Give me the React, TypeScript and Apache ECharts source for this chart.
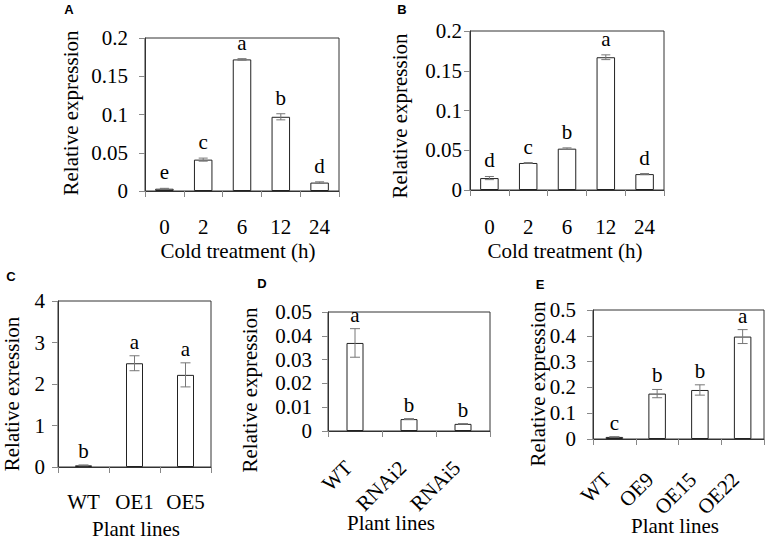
import React, { useEffect, useRef } from "react";
import * as echarts from "echarts";

// ---------- data ----------
const catsA = ["0", "2", "6", "12", "24"];
const valsA = [0.003, 0.041, 0.172, 0.097, 0.011];
const errA = [0.0005, 0.002, 0.001, 0.004, 0.001];
const letA = ["e", "c", "a", "b", "d"];

const catsB = ["0", "2", "6", "12", "24"];
const valsB = [0.015, 0.034, 0.052, 0.167, 0.02];
const errB = [0.002, 0.0005, 0.001, 0.003, 0.0007];
const letB = ["d", "c", "b", "a", "d"];

const catsC = ["WT", "OE1", "OE5"];
const valsC = [0.04, 2.5, 2.22];
const errC = [0.01, 0.18, 0.29];
const letC = ["b", "a", "a"];

const catsD = ["WT", "RNAi2", "RNAi5"];
const valsD = [0.037, 0.005, 0.003];
const errD = [0.006, 0.0002, 0.0001];
const letD = ["a", "b", "b"];

const catsE = ["WT", "OE9", "OE15", "OE22"];
const valsE = [0.008, 0.176, 0.19, 0.397];
const errE = [0.001, 0.016, 0.02, 0.027];
const letE = ["c", "b", "b", "a"];

const yMaxes = [0.2, 0.2, 4, 0.05, 0.5];
const yIntervals = [0.05, 0.05, 1, 0.01, 0.1];
const yTitles = ["Relative expression", "Relative expression", "Relative exression", "Relative expression", "Relative expression"];
const xTitles = ["Cold treatment (h)", "Cold treatment (h)", "Plant lines", "Plant lines", "Plant lines"];
const panelLetters = ["A", "B", "C", "D", "E"];

// ---------- layout ----------
const SERIF = "Liberation Serif";
const SANS = "Liberation Sans";
const FS = 21;

const layout = [
  { grid: { left: 145, top: 38, width: 194, height: 153 }, barW: 18.5, yMargin: 17, xMargin: 25, rotate: 0, pad: 0, gap: 16, cap: 9,
    yTitle: [71, 113], xTitle: [238, 251], letter: [69, 9] },
  { grid: { left: 470, top: 31, width: 194, height: 159 }, barW: 18.5, yMargin: 8, xMargin: 26, rotate: 0, pad: 0, gap: 16, cap: 9,
    yTitle: [400, 116], xTitle: [565, 251], letter: [402, 9] },
  { grid: { left: 58, top: 301, width: 153, height: 166 }, barW: 17, yMargin: 13, xMargin: 24, rotate: 0, pad: 0, gap: 14, cap: 10,
    yTitle: [12, 394], xTitle: [136, 529], letter: [11, 276] },
  { grid: { left: 328, top: 312, width: 162, height: 119 }, barW: 17, yMargin: 16, xMargin: 27, rotate: 45, pad: 9, gap: 14, cap: 10,
    yTitle: [250, 390], xTitle: [391, 523], letter: [262, 283] },
  { grid: { left: 593, top: 310, width: 171, height: 129 }, barW: 17.5, yMargin: 17, xMargin: 30, rotate: 45, pad: 10, gap: 14, cap: 10,
    yTitle: [538, 384], xTitle: [675, 526], letter: [540, 284] },
];

const panels = [
  { cats: catsA, vals: valsA, errs: errA, lets: letA },
  { cats: catsB, vals: valsB, errs: errB, lets: letB },
  { cats: catsC, vals: valsC, errs: errC, lets: letC },
  { cats: catsD, vals: valsD, errs: errD, lets: letD },
  { cats: catsE, vals: valsE, errs: errE, lets: letE },
];

function buildOption() {
  const grid: any[] = [];
  const xAxis: any[] = [];
  const yAxis: any[] = [];
  const series: any[] = [];
  const graphic: any[] = [];

  panels.forEach((p, k) => {
    const L = layout[k];
    grid.push({
      ...L.grid,
      show: true,
      borderColor: "#333",
      borderWidth: 1,
      backgroundColor: "transparent",
      containLabel: false,
    });
    xAxis.push({
      type: "category",
      gridIndex: k,
      data: p.cats,
      boundaryGap: true,
      axisLine: { show: true, lineStyle: { color: "#333", width: 1 } },
      axisTick: { show: true, length: 6, interval: 0, alignWithLabel: false, lineStyle: { color: "#888" } },
      axisLabel: {
        interval: 0,
        margin: L.xMargin,
        rotate: L.rotate,
        padding: [0, L.pad, 0, 0],
        color: "#000",
        fontFamily: SERIF,
        fontSize: FS,
      },
      splitLine: { show: false },
    });
    yAxis.push({
      type: "value",
      gridIndex: k,
      min: 0,
      max: yMaxes[k],
      interval: yIntervals[k],
      axisLine: { show: true, lineStyle: { color: "#333", width: 1 } },
      axisTick: { show: true, length: 6, lineStyle: { color: "#888" } },
      axisLabel: { margin: L.yMargin, color: "#000", fontFamily: SERIF, fontSize: FS },
      splitLine: { show: false },
    });
    series.push({
      type: "bar",
      xAxisIndex: k,
      yAxisIndex: k,
      data: p.vals,
      barWidth: L.barW,
      itemStyle: { color: "#fff", borderColor: "#222", borderWidth: 1 },
      z: 2,
    });
    const lets = p.lets;
    const gap = L.gap;
    const capHalf = L.cap / 2;
    series.push({
      type: "custom",
      xAxisIndex: k,
      yAxisIndex: k,
      z: 3,
      clip: false,
      data: p.vals.map((v, i) => [i, v, p.errs[i]]),
      renderItem: (params: any, api: any) => {
        const i = api.value(0);
        const v = api.value(1);
        const e = api.value(2);
        const top = api.coord([i, v + e]);
        const bot = api.coord([i, Math.max(0, v - e)]);
        const x = top[0];
        const ls = { stroke: "#777", lineWidth: 1 };
        return {
          type: "group",
          children: [
            { type: "line", shape: { x1: x, y1: top[1], x2: x, y2: bot[1] }, style: ls },
            { type: "line", shape: { x1: x - capHalf, y1: top[1], x2: x + capHalf, y2: top[1] }, style: ls },
            { type: "line", shape: { x1: x - capHalf, y1: bot[1], x2: x + capHalf, y2: bot[1] }, style: ls },
            {
              type: "text",
              x: x,
              y: top[1] - gap,
              style: {
                text: lets[params.dataIndex],
                fill: "#000",
                fontFamily: SERIF,
                fontSize: FS,
                align: "center",
                verticalAlign: "middle",
              },
            },
          ],
        };
      },
    });

    graphic.push({
      type: "text",
      x: L.yTitle[0],
      y: L.yTitle[1],
      rotation: Math.PI / 2,
      style: { text: yTitles[k], fill: "#000", fontFamily: SERIF, fontSize: FS, align: "center", verticalAlign: "middle" },
    });
    graphic.push({
      type: "text",
      x: L.xTitle[0],
      y: L.xTitle[1],
      style: { text: xTitles[k], fill: "#000", fontFamily: SERIF, fontSize: FS, align: "center", verticalAlign: "middle" },
    });
    graphic.push({
      type: "text",
      x: L.letter[0],
      y: L.letter[1],
      style: {
        text: panelLetters[k],
        fill: "#000",
        fontFamily: SANS,
        fontWeight: "bold",
        fontSize: 13,
        align: "center",
        verticalAlign: "middle",
      },
    });
  });

  return {
    animation: false,
    backgroundColor: "#fff",
    grid,
    xAxis,
    yAxis,
    series,
    graphic,
  };
}

export default function App() {
  const ref = useRef<HTMLDivElement>(null);
  useEffect(() => {
    document.body.style.margin = "0";
    if (!ref.current) return;
    const chart = echarts.init(ref.current, null, { renderer: "svg" });
    chart.setOption(buildOption() as any);
    return () => chart.dispose();
  }, []);
  return <div ref={ref} style={{ width: 767, height: 541 }} />;
}
